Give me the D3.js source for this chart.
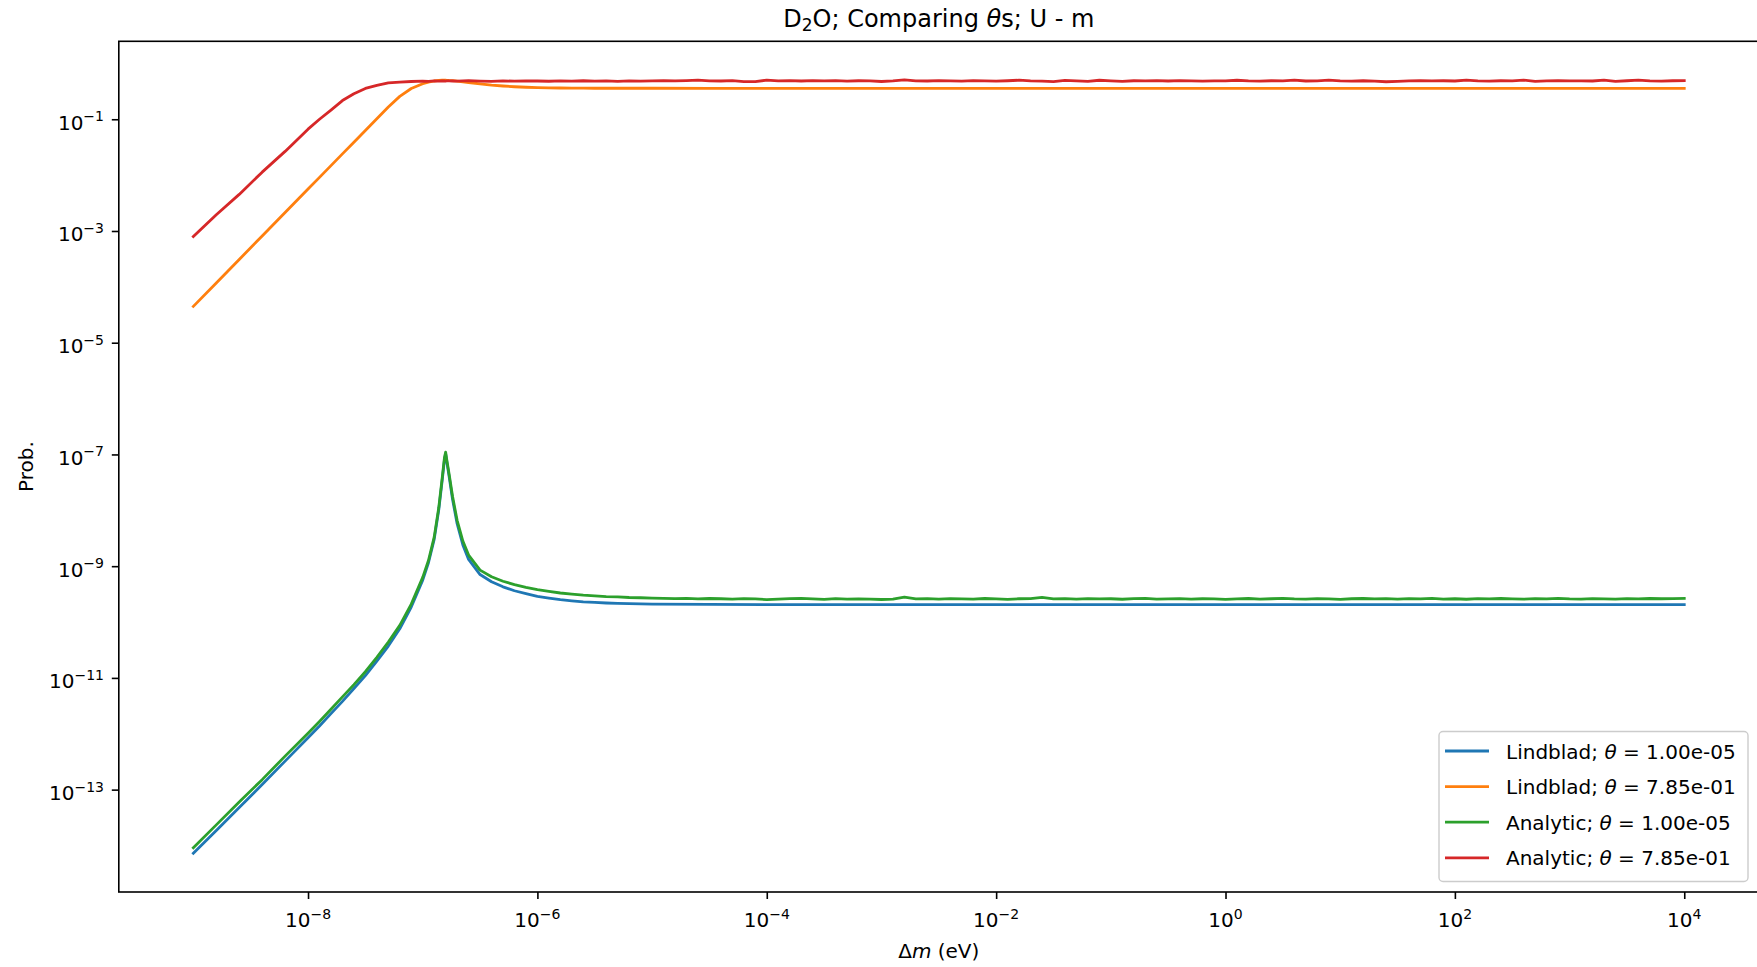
<!DOCTYPE html>
<html>
<head>
<meta charset="utf-8">
<script src="https://cdn.jsdelivr.net/npm/d3@7"></script>
<style>
  body { margin: 0; background: #fff; }
  text { font-family: "DejaVu Sans", sans-serif; fill: #000; }
</style>
</head>
<body>
<svg id="chart" width="1757" height="967"></svg>
<script>
// ---- Δm grids (log10 of Δm in eV) ----
const dmExpLindblad = [
  -9.0, -8.8, -8.6, -8.4, -8.2, -8.0, -7.9, -7.8, -7.7, -7.6,
  -7.5, -7.4, -7.3, -7.2, -7.1, -7.0, -6.95, -6.9, -6.86, -6.83,
  -6.81, -6.8, -6.79, -6.77, -6.74, -6.7, -6.65, -6.6, -6.5, -6.4,
  -6.3, -6.2, -6.1, -6.0, -5.9, -5.8, -5.7, -5.6, -5.5, -5.4,
  -5.3, -5.2, -5.1, -5.0,
  -4.5, -4, -3, -2, -1, 0, 1, 2, 3, 4
];

const dmExpAnalytic = [
  -9.0, -8.8, -8.6, -8.4, -8.2, -8.0, -7.9, -7.8, -7.7, -7.6,
  -7.5, -7.4, -7.3, -7.2, -7.1, -7.0, -6.95, -6.9, -6.86, -6.83,
  -6.81, -6.8, -6.79, -6.77, -6.74, -6.7, -6.65, -6.6, -6.5, -6.4,
  -6.3, -6.2, -6.1, -6.0, -5.9, -5.8, -5.7, -5.6, -5.5, -5.4,
  -5.3, -5.2, -5.1, -5.0,
  -4.9, -4.8, -4.7, -4.6, -4.5, -4.4, -4.3, -4.2, -4.1, -4.0,
  -3.9, -3.8, -3.7, -3.6, -3.5, -3.4, -3.3, -3.2, -3.1, -3.0,
  -2.9, -2.8, -2.7, -2.6, -2.5, -2.4, -2.3, -2.2, -2.1, -2.0,
  -1.9, -1.8, -1.7, -1.6, -1.5, -1.4, -1.3, -1.2, -1.1, -1.0,
  -0.9, -0.8, -0.7, -0.6, -0.5, -0.4, -0.3, -0.2, -0.1, 0.0,
  0.1, 0.2, 0.3, 0.4, 0.5, 0.6, 0.7, 0.8, 0.9, 1.0,
  1.1, 1.2, 1.3, 1.4, 1.5, 1.6, 1.7, 1.8, 1.9, 2.0,
  2.1, 2.2, 2.3, 2.4, 2.5, 2.6, 2.7, 2.8, 2.9, 3.0,
  3.1, 3.2, 3.3, 3.4, 3.5, 3.6, 3.7, 3.8, 3.9, 4.0
];

// ---- Probabilities ----
const probLindbladSmall = [
  7.24e-15, 1.86e-14, 4.79e-14, 1.23e-13, 3.24e-13, 8.51e-13, 1.38e-12, 2.29e-12, 3.80e-12, 6.46e-12,
  1.10e-11, 2.00e-11, 3.72e-11, 7.59e-11, 1.86e-10, 5.62e-10, 1.15e-9, 3.02e-9, 1.02e-8, 3.47e-8,
  8.13e-8, 1.02e-7, 7.41e-8, 4.07e-8, 1.58e-8, 5.75e-9, 2.40e-9, 1.32e-9, 7.08e-10, 5.25e-10,
  4.27e-10, 3.63e-10, 3.24e-10, 2.88e-10, 2.69e-10, 2.51e-10, 2.40e-10, 2.29e-10, 2.24e-10, 2.19e-10,
  2.16e-10, 2.14e-10, 2.11e-10, 2.09e-10,
  2.07e-10, 2.05e-10, 2.05e-10, 2.05e-10, 2.05e-10, 2.05e-10, 2.05e-10, 2.05e-10, 2.05e-10, 2.05e-10
];

const probLindbladLarge = [
  4.47e-5, 1.17e-4, 3.09e-4, 8.13e-4, 2.14e-3, 5.62e-3, 9.12e-3, 1.48e-2, 2.40e-2, 3.89e-2,
  6.31e-2, 0.102, 0.166, 0.257, 0.355, 0.432, 0.462, 0.484, 0.495, 0.499,
  0.500, 0.499, 0.498, 0.494, 0.490, 0.481, 0.468, 0.455, 0.431, 0.409,
  0.394, 0.382, 0.374, 0.369, 0.366, 0.363, 0.361, 0.360, 0.359, 0.359,
  0.359, 0.359, 0.359, 0.359,
  0.358, 0.358, 0.358, 0.358, 0.358, 0.358, 0.358, 0.358, 0.358, 0.358
];

const probAnalyticSmall = [
  9.12e-15, 2.34e-14, 6.03e-14, 1.51e-13, 3.98e-13, 1.02e-12, 1.66e-12, 2.75e-12, 4.57e-12, 7.59e-12,
  1.29e-11, 2.34e-11, 4.37e-11, 8.71e-11, 2.09e-10, 6.31e-10, 1.26e-9, 3.31e-9, 1.12e-8, 3.80e-8,
  8.91e-8, 1.10e-7, 7.94e-8, 4.47e-8, 1.78e-8, 6.61e-9, 2.82e-9, 1.58e-9, 8.51e-10, 6.46e-10,
  5.37e-10, 4.68e-10, 4.17e-10, 3.80e-10, 3.55e-10, 3.31e-10, 3.16e-10, 3.02e-10, 2.95e-10, 2.85e-10,
  2.82e-10, 2.75e-10, 2.72e-10, 2.69e-10,
  2.66e-10, 2.62e-10, 2.66e-10, 2.60e-10, 2.64e-10, 2.61e-10, 2.58e-10, 2.63e-10, 2.60e-10, 2.52e-10,
  2.57e-10, 2.63e-10, 2.65e-10, 2.59e-10, 2.55e-10, 2.62e-10, 2.58e-10, 2.60e-10, 2.57e-10, 2.53e-10,
  2.58e-10, 2.80e-10, 2.60e-10, 2.62e-10, 2.57e-10, 2.63e-10, 2.60e-10, 2.58e-10, 2.64e-10, 2.59e-10,
  2.55e-10, 2.61e-10, 2.63e-10, 2.76e-10, 2.60e-10, 2.62e-10, 2.57e-10, 2.63e-10, 2.59e-10, 2.61e-10,
  2.56e-10, 2.62e-10, 2.65e-10, 2.58e-10, 2.60e-10, 2.63e-10, 2.57e-10, 2.61e-10, 2.59e-10, 2.54e-10,
  2.60e-10, 2.64e-10, 2.58e-10, 2.61e-10, 2.66e-10, 2.59e-10, 2.57e-10, 2.62e-10, 2.60e-10, 2.55e-10,
  2.61e-10, 2.64e-10, 2.59e-10, 2.62e-10, 2.57e-10, 2.63e-10, 2.60e-10, 2.66e-10, 2.58e-10, 2.61e-10,
  2.56e-10, 2.62e-10, 2.59e-10, 2.64e-10, 2.60e-10, 2.57e-10, 2.62e-10, 2.59e-10, 2.65e-10, 2.60e-10,
  2.58e-10, 2.63e-10, 2.60e-10, 2.57e-10, 2.62e-10, 2.59e-10, 2.64e-10, 2.61e-10, 2.63e-10, 2.65e-10
];

const probAnalyticLarge = [
  7.94e-4, 1.95e-3, 4.52e-3, 1.13e-2, 2.66e-2, 6.65e-2, 0.100, 0.146, 0.216, 0.286,
  0.356, 0.405, 0.448, 0.461, 0.474, 0.480, 0.478, 0.485, 0.482, 0.486,
  0.484, 0.483, 0.485, 0.487, 0.484, 0.481, 0.486, 0.490, 0.483, 0.478,
  0.486, 0.481, 0.488, 0.484, 0.479, 0.486, 0.483, 0.489, 0.481, 0.485,
  0.478, 0.486, 0.482, 0.487,
  0.490, 0.485, 0.492, 0.501, 0.488, 0.484, 0.490, 0.472, 0.470, 0.503,
  0.487, 0.491, 0.484, 0.490, 0.486, 0.492, 0.483, 0.489, 0.485, 0.474,
  0.486, 0.505, 0.488, 0.484, 0.491, 0.487, 0.483, 0.490, 0.486, 0.482,
  0.489, 0.500, 0.487, 0.481, 0.470, 0.498, 0.486, 0.475, 0.499, 0.488,
  0.477, 0.489, 0.485, 0.491, 0.484, 0.490, 0.486, 0.482, 0.488, 0.485,
  0.499, 0.486, 0.483, 0.489, 0.487, 0.501, 0.484, 0.488, 0.500, 0.486,
  0.483, 0.489, 0.480, 0.469, 0.476, 0.487, 0.490, 0.485, 0.489, 0.484,
  0.500, 0.486, 0.483, 0.489, 0.485, 0.501, 0.478, 0.487, 0.490, 0.485,
  0.488, 0.484, 0.502, 0.477, 0.489, 0.500, 0.486, 0.483, 0.489, 0.490
];

// ---- Tick labels (decade exponents) ----
const xTickExps = [-8, -6, -4, -2, 0, 2, 4];
const yTickExps = [-13, -11, -9, -7, -5, -3, -1];

const seriesNames = ["Lindblad", "Lindblad", "Analytic", "Analytic"];
const seriesThetas = ["1.00e-05", "7.85e-01", "1.00e-05", "7.85e-01"];
const seriesColors = ["#1f77b4", "#ff7f0e", "#2ca02c", "#d62728"];
const seriesExps = [dmExpLindblad, dmExpLindblad, dmExpAnalytic, dmExpAnalytic];
const seriesProbs = [probLindbladSmall, probLindbladLarge, probAnalyticSmall, probAnalyticLarge];

const series = seriesNames.map((name, i) => ({
  name, theta: seriesThetas[i], color: seriesColors[i],
  points: seriesExps[i].map((e, j) => ({ dm: Math.pow(10, e), p: seriesProbs[i][j] }))
}));

// ---- Layout ----
const plot = { left: 118.8, top: 41.3, right: 1758.8, bottom: 892 };
const svg = d3.select("#chart");

// log-space extents with 5% padding on both ends
const allPts = series.flatMap(s => s.points);
const lx = d3.extent(allPts, d => Math.log10(d.dm));
const ly = d3.extent(allPts, d => Math.log10(d.p));
const px = 0.05 * (lx[1] - lx[0]);
const py = 0.05 * (ly[1] - ly[0]);

const x = d3.scaleLog()
  .domain([Math.pow(10, lx[0] - px), Math.pow(10, lx[1] + px)])
  .range([plot.left, plot.right]);
const y = d3.scaleLog()
  .domain([Math.pow(10, ly[0] - py), Math.pow(10, ly[1] + py)])
  .range([plot.bottom, plot.top]);

svg.append("rect").attr("width", 1757).attr("height", 967).attr("fill", "#fff");

svg.append("defs").append("clipPath").attr("id", "plotClip")
  .append("rect")
  .attr("x", plot.left).attr("y", plot.top)
  .attr("width", plot.right - plot.left).attr("height", plot.bottom - plot.top);

// ---- Curves ----
const line = d3.line().x(d => x(d.dm)).y(d => y(d.p));
const curves = svg.append("g").attr("clip-path", "url(#plotClip)");
series.forEach(s => {
  curves.append("path")
    .datum(s.points)
    .attr("d", line)
    .attr("fill", "none")
    .attr("stroke", s.color)
    .attr("stroke-width", 2.8)
    .attr("stroke-linejoin", "round")
    .attr("stroke-linecap", "square");
});

// ---- Axes ----
const minus = "\u2212";
const xAxis = d3.axisBottom(x)
  .tickValues(xTickExps.map(e => Math.pow(10, e)))
  .tickSize(7).tickSizeOuter(0).tickFormat("");
const gx = svg.append("g").attr("transform", `translate(0,${plot.bottom})`).call(xAxis);
gx.select(".domain").remove();
gx.selectAll(".tick line").attr("stroke", "#000").attr("stroke-width", 1.6);

const yAxis = d3.axisLeft(y)
  .tickValues(yTickExps.map(e => Math.pow(10, e)))
  .tickSize(7).tickSizeOuter(0).tickFormat("");
const gy = svg.append("g").attr("transform", `translate(${plot.left},0)`).call(yAxis);
gy.select(".domain").remove();
gy.selectAll(".tick line").attr("stroke", "#000").attr("stroke-width", 1.6);

function powerLabel(sel, e) {
  sel.append("tspan").text("10");
  sel.append("tspan")
    .attr("dy", -8.5).attr("font-size", 14)
    .text(e < 0 ? minus + Math.abs(e) : String(e));
}

xTickExps.forEach(e => {
  const t = svg.append("text")
    .attr("x", x(Math.pow(10, e))).attr("y", 927)
    .attr("text-anchor", "middle").attr("font-size", 20);
  powerLabel(t, e);
});

yTickExps.forEach(e => {
  const t = svg.append("text")
    .attr("x", 104).attr("y", y(Math.pow(10, e)) + 10.5)
    .attr("text-anchor", "end").attr("font-size", 20);
  powerLabel(t, e);
});

// ---- Frame ----
svg.append("rect")
  .attr("x", plot.left).attr("y", plot.top)
  .attr("width", plot.right - plot.left).attr("height", plot.bottom - plot.top)
  .attr("fill", "none").attr("stroke", "#000").attr("stroke-width", 1.6);

// ---- Titles ----
const cx = (plot.left + plot.right) / 2;
const title = svg.append("text")
  .attr("x", cx).attr("y", 27).attr("text-anchor", "middle").attr("font-size", 24);
title.append("tspan").text("D");
title.append("tspan").attr("dy", 4).attr("font-size", 17).text("2");
title.append("tspan").attr("dy", -4).text("O; Comparing ");
title.append("tspan").attr("font-style", "italic").text("\u03b8");
title.append("tspan").text("s; U - m");

const xl = svg.append("text")
  .attr("x", cx).attr("y", 958).attr("text-anchor", "middle").attr("font-size", 20);
xl.append("tspan").text("\u0394");
xl.append("tspan").attr("font-style", "italic").text("m");
xl.append("tspan").text(" (eV)");

svg.append("text")
  .attr("transform", `translate(33,${(plot.top + plot.bottom) / 2}) rotate(-90)`)
  .attr("text-anchor", "middle").attr("font-size", 20)
  .text("Prob.");

// ---- Legend ----
const lg = svg.append("g");
lg.append("rect")
  .attr("x", 1439).attr("y", 731.5).attr("width", 309).attr("height", 150)
  .attr("rx", 4).attr("ry", 4)
  .attr("fill", "#fff").attr("fill-opacity", 0.8)
  .attr("stroke", "#cccccc").attr("stroke-width", 1.4);
series.forEach((s, i) => {
  const ry = 751 + i * 35.6;
  lg.append("line")
    .attr("x1", 1445).attr("x2", 1489).attr("y1", ry).attr("y2", ry)
    .attr("stroke", s.color).attr("stroke-width", 2.8);
  const t = lg.append("text").attr("x", 1506).attr("y", ry + 7.5).attr("font-size", 20);
  t.append("tspan").text(s.name + "; ");
  t.append("tspan").attr("font-style", "italic").text("\u03b8");
  t.append("tspan").text(" = " + s.theta);
});
</script>
</body>
</html>
